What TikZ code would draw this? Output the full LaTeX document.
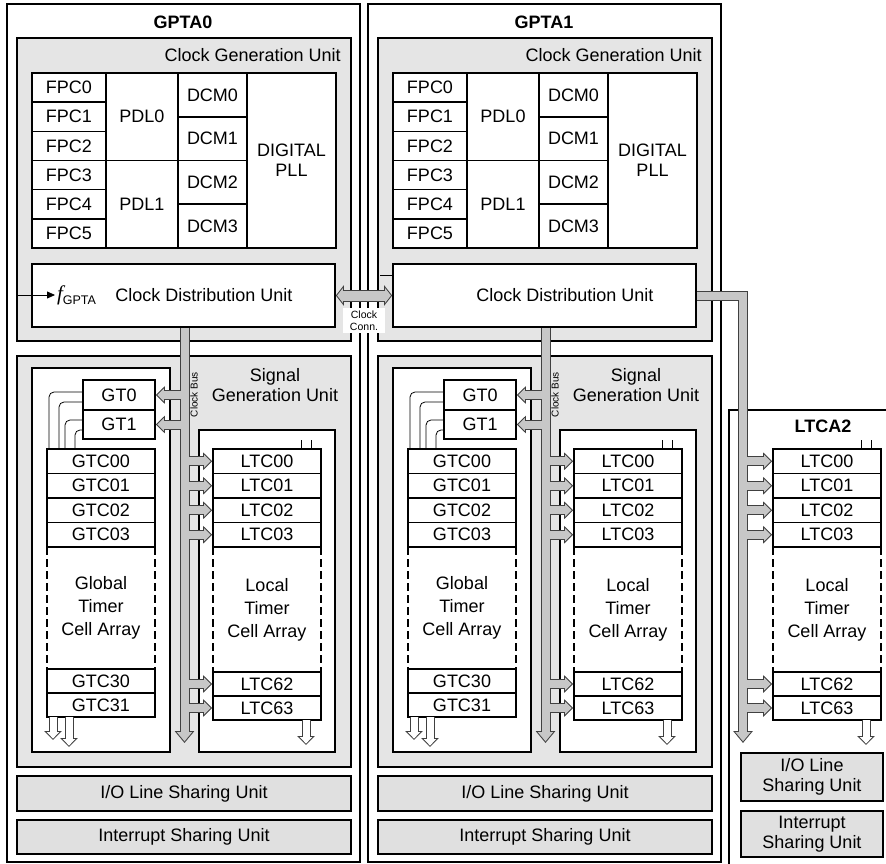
\documentclass[tikz,border=0pt]{standalone}
\usepackage{fontspec}
\setmainfont{Liberation Sans}
\newfontfamily\fserif{Liberation Serif}
\usetikzlibrary{arrows.meta,positioning,calc}

\colorlet{unitgray}{black!10}
\colorlet{sharegray}{black!12}
\colorlet{busgray}{black!22}
\colorlet{busline}{black!75}

\begin{document}
\begin{tikzpicture}[
  x=1pt, y=-1pt,
  font=\fontsize{18}{20}\selectfont,
  outer sep=0pt,
  frame/.style={draw,line width=1.3pt},
  title/.style={font=\fontsize{18}{20}\selectfont\bfseries},
  unit/.style={draw,line width=1.5pt,fill=unitgray,inner sep=0pt,anchor=north west},
  share/.style={unit,fill=sharegray,align=center},
  blk/.style={draw,line width=1.6pt,fill=white,inner sep=0pt,anchor=north west},
  cell/.style={draw,line width=1.6pt,fill=white,inner sep=0pt,align=center},
  arraytext/.style={align=center,font=\fontsize{18}{23}\selectfont},
  wire/.style={draw,line width=.8pt,rounded corners=5pt},
  tick/.style={draw,line width=.8pt},
  dashside/.style={line width=2.2pt,dash pattern=on 8pt off 4pt},
  small/.style={font=\fontsize{10}{12}\selectfont},
  busout/.style={line width=10pt,draw=busline,shorten <=.8pt,-{Triangle[width=19pt,length=12pt]}},
  busin/.style={line width=8pt,draw=busgray,shorten <=.8pt,shorten >=1.6pt,-{Triangle[width=14.9pt,length=9.4pt]}},
  toothout/.style={line width=10pt,draw=busline,shorten >=.8pt,-{Triangle[width=17pt,length=9pt]}},
  toothin/.style={line width=8pt,draw=busgray,shorten >=2.26pt,-{Triangle[width=12.4pt,length=6.5pt]}},
  openout/.style={line width=9pt,draw=busline,-{Triangle[width=17pt,length=9pt]}},
  openin/.style={line width=7pt,draw=white,shorten >=1.46pt,-{Triangle[width=12.4pt,length=6.5pt]}},
  connout/.style={line width=12pt,draw=busline,shorten <=.8pt,shorten >=.8pt,{Triangle[width=20pt,length=8pt]}-{Triangle[width=20pt,length=8pt]}},
  connin/.style={line width=10pt,draw=busgray,shorten <=2.1pt,shorten >=2.1pt,{Triangle[width=14.3pt,length=5.7pt]}-{Triangle[width=14.3pt,length=5.7pt]}}
]
  \useasboundingbox (0,0) rectangle (886,864);

  % the two GPTA modules
  \foreach \m/\ox in {0/0,1/361}{
  \begin{scope}[xshift=\ox]
    \node[frame,inner sep=0pt,anchor=north west,minimum width=353,minimum height=858] (gpta\m) at (7,4) {};
    \node[title] (name\m) at (183,22) {GPTA\m};

    % clock generation unit
    \node[unit,minimum width=334,minimum height=303] (cgu\m) at (17,38) {};
    \node[anchor=east] (cgulab\m) at (344,55) {Clock Generation Unit};
    \node[cell,anchor=north west,minimum width=74,minimum height=29.17] (fpc0-\m) at (32,73) {FPC0};
    \foreach \r [count=\p from 0] in {1,...,5}
      \node[cell,minimum width=74,minimum height=29.17,below=0pt of fpc\p-\m] (fpc\r-\m) {FPC\r};
    \node[cell,anchor=north west,minimum width=72,minimum height=87.5] (pdl0-\m) at (fpc0-\m.north east) {PDL0};
    \node[cell,minimum width=72,minimum height=87.5,below=0pt of pdl0-\m] (pdl1-\m) {PDL1};
    \node[cell,anchor=north west,minimum width=69,minimum height=43.75] (dcm0-\m) at (pdl0-\m.north east) {DCM0};
    \foreach \r [count=\p from 0] in {1,2,3}
      \node[cell,minimum width=69,minimum height=43.75,below=0pt of dcm\p-\m] (dcm\r-\m) {DCM\r};
    \node[cell,anchor=north west,minimum width=89,minimum height=175] (pll\m) at (dcm0-\m.north east) {DIGITAL\\PLL};
    \node[blk,minimum width=303,minimum height=63] (cdu\m) at (32,264) {};
    \node (cdulab\m) at (204,295) {Clock Distribution Unit};

    % signal generation unit
    \node[unit,minimum width=334,minimum height=411] (sgu\m) at (17,356) {};
    \node[align=center] (sgulab\m) at (275,385) {Signal\\Generation Unit};
    \node[blk,minimum width=138,minimum height=384] (glob\m) at (32,368) {};
    \node[blk,minimum width=136,minimum height=322] (loc\m) at (199,430) {};
    \node[small,rotate=90] (buslab\m) at (194,394.5) {Clock Bus};
    \node[cell,anchor=north west,minimum width=72,minimum height=30] (gt0-\m) at (83,380) {GT0};
    \node[cell,minimum width=72,minimum height=29,below=0pt of gt0-\m] (gt1-\m) {GT1};
    \node[cell,anchor=north west,minimum width=108,minimum height=24.5] (gtc00-\m) at (47,449) {GTC00};
    \foreach \r/\p in {01/00,02/01,03/02}
      \node[cell,minimum width=108,minimum height=24.5,below=0pt of gtc\p-\m] (gtc\r-\m) {GTC\r};
    \node[cell,minimum width=108,minimum height=24,below=122pt of gtc03-\m] (gtc30-\m) {GTC30};
    \node[cell,minimum width=108,minimum height=24,below=0pt of gtc30-\m] (gtc31-\m) {GTC31};
    \draw[dashside] (gtc03-\m.south west) -- (gtc30-\m.north west)
                    (gtc03-\m.south east) -- (gtc30-\m.north east);
    \node[arraytext] (gtxt\m) at ($(gtc03-\m.south)!.5!(gtc30-\m.north)$) {Global\\Timer\\Cell Array};
    \draw[wire] ([yshift=-12pt]gt0-\m.north west) -| (49,0 |- gtc00-\m.north);
    \draw[wire] ([yshift=-22pt]gt0-\m.north west) -| (59,0 |- gtc00-\m.north);
    \draw[wire] ([yshift=-10pt]gt1-\m.north west) -| (65,0 |- gtc00-\m.north);
    \draw[wire] ([yshift=-20pt]gt1-\m.north west) -| (75,0 |- gtc00-\m.north);
    \coordinate (oa\m) at (53,740);
    \coordinate (ob\m) at (69,747);
    \coordinate (busend\m) at (184.5,743);

    % sharing units
    \node[share,minimum width=334,minimum height=35] (iosu\m) at (17,776) {I/O Line Sharing Unit};
    \node[share,minimum width=334,minimum height=34] (isu\m) at (17,820) {Interrupt Sharing Unit};
  \end{scope}
  }

  % LTCA2
  \draw[frame] (886,410) -| (729,864);
  \node[title] (name2) at (823,426) {LTCA2};
  \node[share,minimum width=142,minimum height=48] (iosu2) at (741,753) {I/O Line\\Sharing Unit};
  \node[share,minimum width=142,minimum height=46] (isu2) at (741,811) {Interrupt\\Sharing Unit};
  \coordinate (busend2) at (743,743);

  % local timer cell arrays
  \foreach \m/\lx in {0/213,1/574,2/773}{
    \node[cell,anchor=north west,minimum width=108,minimum height=24.5] (ltc00-\m) at (\lx,449) {LTC00};
    \foreach \r/\p in {01/00,02/01,03/02}
      \node[cell,minimum width=108,minimum height=24.5,below=0pt of ltc\p-\m] (ltc\r-\m) {LTC\r};
    \node[cell,minimum width=108,minimum height=24,below=125pt of ltc03-\m] (ltc62-\m) {LTC62};
    \node[cell,minimum width=108,minimum height=24,below=0pt of ltc62-\m] (ltc63-\m) {LTC63};
    \draw[dashside] (ltc03-\m.south west) -- (ltc62-\m.north west)
                    (ltc03-\m.south east) -- (ltc62-\m.north east);
    \node[arraytext] (ltxt\m) at ($(ltc03-\m.south)!.5!(ltc62-\m.north)$) {Local\\Timer\\Cell Array};
    \draw[tick] ([xshift=-20pt]ltc00-\m.north east) -- ++(0,-9)
                ([xshift=-10pt]ltc00-\m.north east) -- ++(0,-9);
    \coordinate (oc\m) at (\lx+93,745);
  }

  % clock input
  \node[anchor=west,inner sep=2pt] (fgpta) at (55,295)
    {{\fserif\itshape\fontsize{21}{21}\selectfont f}\raisebox{-4pt}{\fontsize{12.5}{14}\selectfont GPTA}};
  \draw[line width=.8pt,-{Triangle[length=8pt,width=7pt]}] (cgu0.west |- fgpta.west) -- (fgpta.west);
  \draw[line width=.8pt] ([yshift=-11pt]cdu1.north west) -- ++(-13,0);

  % buses: outline first, then fill
  \foreach \pass in {out,in}{
    \foreach \m in {0,1}{
      \draw[bus\pass] (cdu\m.south -| busend\m) -- (busend\m);
      \foreach \c in {gt0,gt1}
        \draw[tooth\pass] (\c-\m.east -| busend\m) -- (\c-\m.east);
      \draw[open\pass] (oa\m |- gtc31-\m.south) -- (oa\m);
      \draw[open\pass] (ob\m |- gtc31-\m.south) -- (ob\m);
    }
    \draw[bus\pass] (cdu1.east) -| (busend2);
    \foreach \m in {0,1,2}{
      \foreach \c in {00,01,02,03,62,63}
        \draw[tooth\pass] (ltc\c-\m.west -| busend\m) -- (ltc\c-\m.west);
      \draw[open\pass] (oc\m |- ltc63-\m.south) -- (oc\m);
    }
    \draw[conn\pass] (cdu0.east) -- (cdu1.west);
  }
  \node[fill=white,align=center,inner sep=2pt,minimum width=42,font=\fontsize{10.5}{12.5}\selectfont] (conn) at (364,320.5) {Clock\\Conn.};
\end{tikzpicture}
\end{document}
